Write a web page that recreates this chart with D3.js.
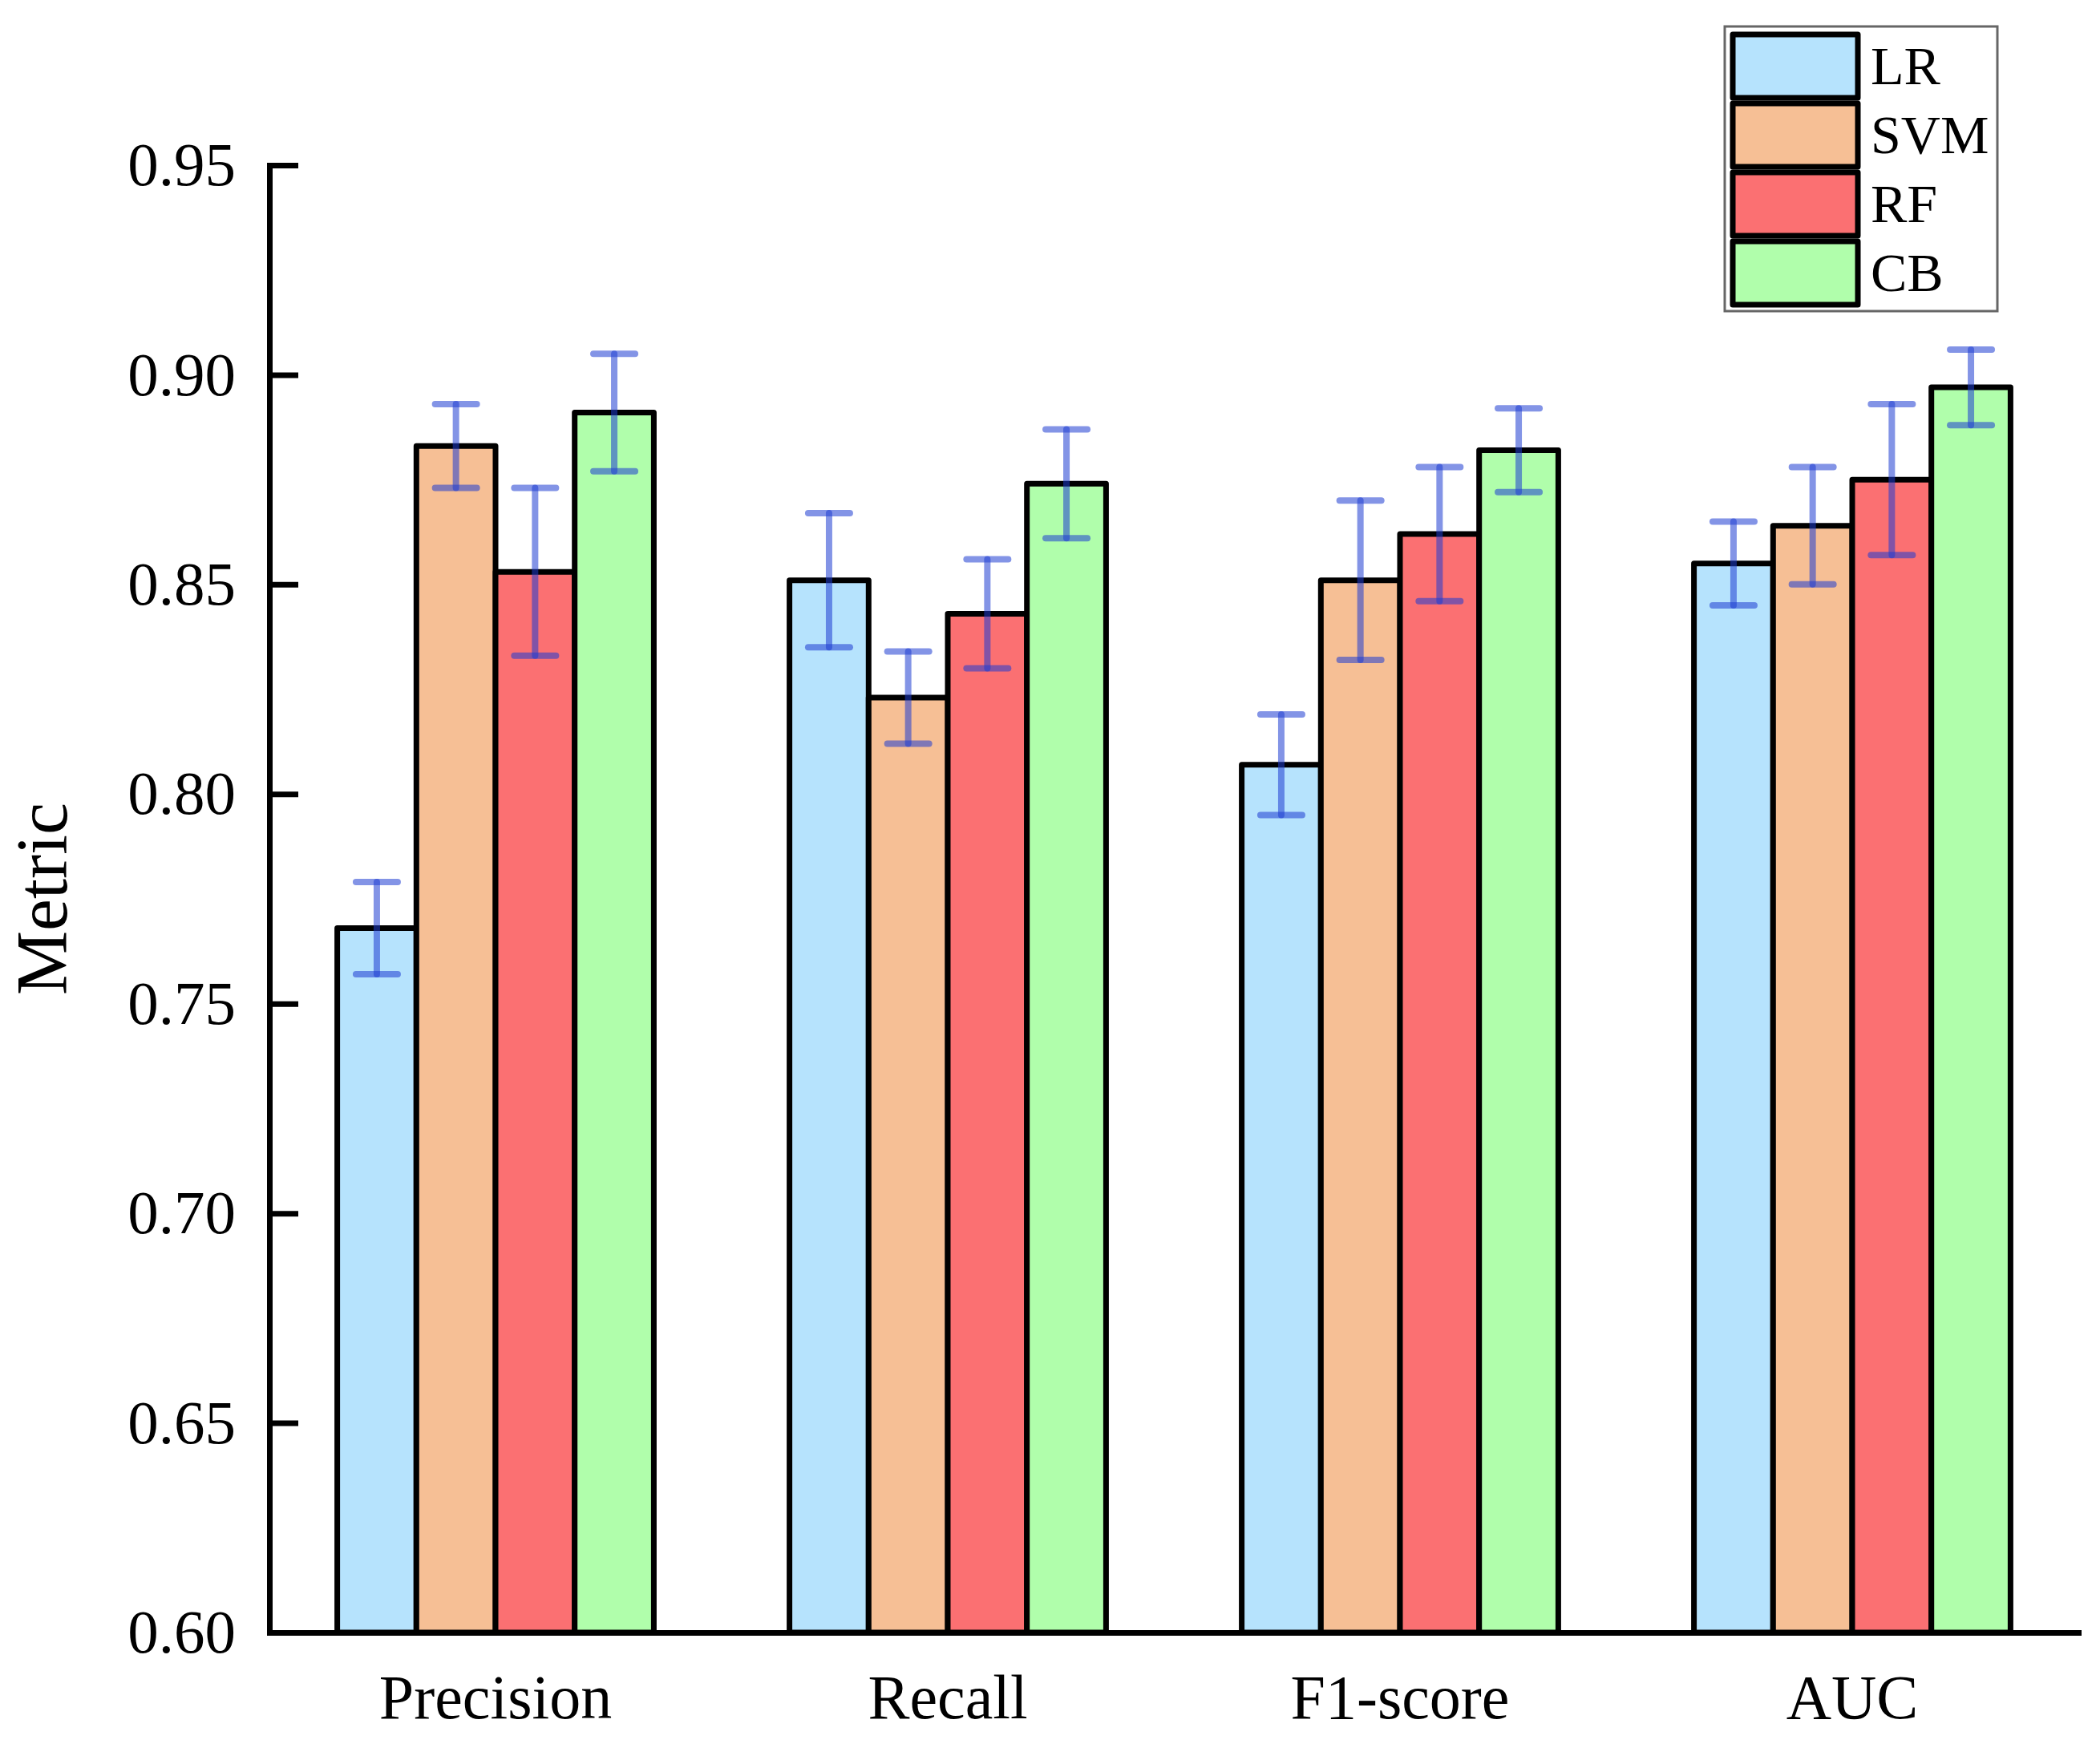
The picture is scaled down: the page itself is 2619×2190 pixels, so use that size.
<!DOCTYPE html>
<html>
<head>
<meta charset="utf-8">
<script src="https://cdn.jsdelivr.net/npm/d3@7"></script>
<style>
  body { margin: 0; background: #fff; }
  svg { display: block; font-family: "Liberation Serif", "Times New Roman", serif; }
</style>
</head>
<body>
<svg width="2619" height="2190"></svg>
<script>
// data
const metrics = ["Precision", "Recall", "F1-score", "AUC"];
const models = ["LR", "SVM", "RF", "CB"];
const LR  = [0.768, 0.851, 0.807, 0.855];
const SVM = [0.883, 0.823, 0.851, 0.864];
const RF  = [0.853, 0.843, 0.862, 0.875];
const CB  = [0.891, 0.874, 0.882, 0.897];
const errLR  = [0.011, 0.016, 0.012, 0.010];
const errSVM = [0.010, 0.011, 0.019, 0.014];
const errRF  = [0.020, 0.013, 0.016, 0.018];
const errCB  = [0.014, 0.013, 0.010, 0.009];
const yTicks = [0.60, 0.65, 0.70, 0.75, 0.80, 0.85, 0.90, 0.95];

const colors = ["#b6e3fd", "#f6bf95", "#fb7072", "#b0feab"];

const values = [LR, SVM, RF, CB];
const errors = [errLR, errSVM, errRF, errCB];

const svg = d3.select("svg");
const plotLeft = 336, plotRight = 2592, plotTop = 206, plotBottom = 2036;

const x0 = d3.scaleBand().domain(metrics).range([plotLeft, plotRight])
    .paddingInner(0.3).paddingOuter(0.15);
const x1 = d3.scaleBand().domain(models).range([0, x0.bandwidth()]);
const y = d3.scaleLinear().domain([0.6, 0.95]).range([plotBottom, plotTop]);
const color = d3.scaleOrdinal().domain(models).range(colors);

// flatten to one record per bar
const rows = [];
metrics.forEach((m, i) => {
    models.forEach((s, j) => {
        rows.push({metric: m, model: s, value: values[j][i], err: errors[j][i]});
    });
});

// bars
svg.append("g")
    .attr("stroke", "#000")
    .attr("stroke-width", 7)
    .attr("stroke-linejoin", "round")
    .selectAll("rect")
    .data(rows)
    .join("rect")
    .attr("x", d => x0(d.metric) + x1(d.model))
    .attr("y", d => y(d.value))
    .attr("width", x1.bandwidth())
    .attr("height", d => y(0.6) - y(d.value))
    .attr("fill", d => color(d.model));

// error bars
const capW = 52;
const errG = svg.append("g")
    .attr("stroke", "rgb(30,60,210)")
    .attr("stroke-opacity", 0.55)
    .attr("stroke-width", 8)
    .attr("stroke-linecap", "round");

const eb = errG.selectAll("g")
    .data(rows)
    .join("g")
    .attr("transform", d => `translate(${x0(d.metric) + x1(d.model) + x1.bandwidth() / 2},0)`);
eb.append("line")
    .attr("y1", d => y(d.value + d.err))
    .attr("y2", d => y(d.value - d.err));
eb.append("line")
    .attr("x1", -capW / 2).attr("x2", capW / 2)
    .attr("y1", d => y(d.value + d.err))
    .attr("y2", d => y(d.value + d.err));
eb.append("line")
    .attr("x1", -capW / 2).attr("x2", capW / 2)
    .attr("y1", d => y(d.value - d.err))
    .attr("y2", d => y(d.value - d.err));

// y axis
const yAxis = svg.append("g")
    .attr("transform", `translate(${plotLeft},0)`)
    .call(d3.axisLeft(y).tickValues(yTicks).tickFormat(d3.format(".2f"))
        .tickSize(-36).tickSizeOuter(0).tickPadding(42));
yAxis.select(".domain").attr("stroke-width", 7).attr("stroke-linecap", "square");
yAxis.selectAll(".tick line").attr("stroke-width", 7);
yAxis.selectAll(".tick text")
    .attr("font-size", 77)
    .attr("font-family", "Liberation Serif")
    .attr("fill", "#000");

// x axis
const xAxis = svg.append("g")
    .attr("transform", `translate(0,${plotBottom})`)
    .call(d3.axisBottom(x0).tickSize(0).tickSizeOuter(0).tickPadding(52));
xAxis.select(".domain").attr("stroke-width", 7).attr("stroke-linecap", "square");
xAxis.selectAll(".tick text")
    .attr("font-size", 78)
    .attr("font-family", "Liberation Serif")
    .attr("fill", "#000");

// y label
svg.append("text")
    .attr("transform", `translate(83,${(plotTop + plotBottom) / 2}) rotate(-90)`)
    .attr("text-anchor", "middle")
    .attr("font-size", 90)
    .text("Metric");

// legend
const lg = svg.append("g").attr("transform", "translate(2151,33)");
lg.append("rect")
    .attr("width", 340).attr("height", 355)
    .attr("fill", "#fff")
    .attr("stroke", "#666")
    .attr("stroke-width", 3);
const item = lg.selectAll("g")
    .data(models)
    .join("g")
    .attr("transform", (d, i) => `translate(10,${10 + i * 86})`);
item.append("rect")
    .attr("width", 156).attr("height", 79)
    .attr("fill", d => color(d))
    .attr("stroke", "#000")
    .attr("stroke-width", 7)
    .attr("stroke-linejoin", "round");
item.append("text")
    .attr("x", 172)
    .attr("y", 62)
    .attr("font-size", 68)
    .text(d => d);
</script>
</body>
</html>
